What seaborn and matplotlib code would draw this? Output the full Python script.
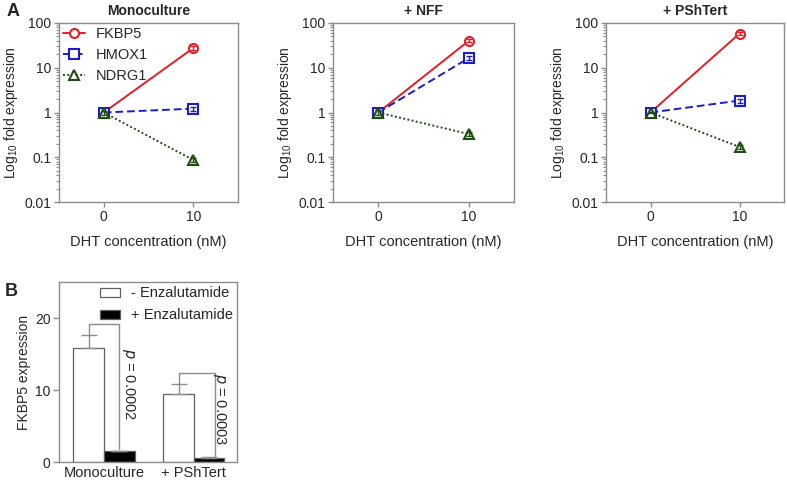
import numpy as np
import pandas as pd
import seaborn as sns
import matplotlib
matplotlib.use("Agg")
import matplotlib.pyplot as plt

sns.set_style("ticks")
plt.rcParams['font.family'] = ['Liberation Sans', 'DejaVu Sans']
plt.rcParams['mathtext.default'] = 'regular'

# panel A data
dht = [0, 10]
conditions = ["Monoculture", "+ NFF", "+ PShTert"]
genes = ["FKBP5", "HMOX1", "NDRG1"]
fkbp5 = {"Monoculture": [1.0, 27.5], "+ NFF": [1.0, 40.0], "+ PShTert": [1.0, 58.0]}
hmox1 = {"Monoculture": [1.0, 1.22], "+ NFF": [1.0, 16.5], "+ PShTert": [1.0, 1.85]}
ndrg1 = {"Monoculture": [1.0, 0.087], "+ NFF": [1.0, 0.33], "+ PShTert": [1.0, 0.17]}
fkbp5_err = {"Monoculture": [0.05, 2.5], "+ NFF": [0.05, 3.0], "+ PShTert": [0.05, 5.0]}
hmox1_err = {"Monoculture": [0.05, 0.12], "+ NFF": [0.1, 1.8], "+ PShTert": [0.05, 0.2]}
ndrg1_err = {"Monoculture": [0.1, 0.01], "+ NFF": [0.12, 0.03], "+ PShTert": [0.05, 0.02]}

# panel B data
groups = ["Monoculture", "+ PShTert"]
treatments = ["- Enzalutamide", "+ Enzalutamide"]
minus_enz = [15.8, 9.5]
minus_enz_err = [1.8, 1.3]
plus_enz = [1.5, 0.55]
plus_enz_err = [0.05, 0.15]
pvals = ["0.0002", "0.0003"]

colors = {"FKBP5": "#e31e24", "HMOX1": "#1c1ccc", "NDRG1": "#1f4d14"}
styles = {"FKBP5": "-", "HMOX1": (0, (4, 2)), "NDRG1": (0, (1, 1.2))}
marks = {"FKBP5": "o", "HMOX1": "s", "NDRG1": "^"}
vals = {"FKBP5": fkbp5, "HMOX1": hmox1, "NDRG1": ndrg1}
errs = {"FKBP5": fkbp5_err, "HMOX1": hmox1_err, "NDRG1": ndrg1_err}

W, H = 787, 483
fig = plt.figure(figsize=(W / 100, H / 100), dpi=100)

def box(l, r, t, b):
    return [l / W, 1 - b / H, (r - l) / W, (b - t) / H]

spine_col = "#8c8c8c"
a_boxes = [(59, 238, 23, 202), (333, 514, 23, 202), (606, 784, 23, 202)]

for i, cond in enumerate(conditions):
    ax = fig.add_axes(box(*a_boxes[i]))
    for g in genes:
        df = pd.DataFrame({"x": dht, "y": vals[g][cond]})
        sns.lineplot(data=df, x="x", y="y", ax=ax, color=colors[g],
                     linestyle=styles[g], linewidth=1.4, marker=marks[g],
                     markersize=6.5, markerfacecolor="white",
                     markeredgecolor=colors[g], markeredgewidth=1.5,
                     label=g if i == 0 else None)
        ax.errorbar(dht, vals[g][cond], yerr=errs[g][cond], fmt="none",
                    ecolor=colors[g], elinewidth=1, capsize=2.5)
    ax.set_yscale("log")
    ax.set_ylim(0.01, 100)
    ax.set_xlim(-5, 15)
    ax.set_xticks([0, 10])
    ax.set_yticks([0.01, 0.1, 1, 10, 100])
    ax.set_yticklabels(["0.01", "0.1", "1", "10", "100"])
    ax.set_xlabel("DHT concentration (nM)", fontsize=10.5, labelpad=8)
    ax.set_ylabel("Log$_{10}$ fold expression", fontsize=10, labelpad=3)
    ax.set_title(cond, fontsize=10, fontweight="bold", pad=6)
    for s in ax.spines.values():
        s.set_color(spine_col)
        s.set_linewidth(1)
    ax.tick_params(axis="both", which="major", labelsize=10, color=spine_col,
                   length=3.5, width=1, pad=2)
    ax.tick_params(axis="y", which="minor", color=spine_col, length=2, width=0.8)
    if i == 0:
        ax.legend(loc="upper left", frameon=False, fontsize=10.5,
                  handlelength=1.5, borderaxespad=0.0, borderpad=0.25,
                  labelspacing=0.5, handletextpad=0.75)
    else:
        if ax.get_legend():
            ax.get_legend().remove()

fig.text(7 / W, 1 - 11 / H, "A", fontsize=13, fontweight="bold", va="center")

# panel B
axb = fig.add_axes(box(59, 237, 282, 462))
dfb = pd.DataFrame({
    "group": groups * 2,
    "treatment": [treatments[0]] * 2 + [treatments[1]] * 2,
    "value": minus_enz + plus_enz,
})
sns.barplot(data=dfb, x="group", y="value", hue="treatment", ax=axb,
            palette=["white", "black"], edgecolor="#606060", linewidth=0.9,
            width=0.68, errorbar=None, gap=0)
bw = 0.34
for j in range(len(groups)):
    xw = j - bw / 2
    xb = j + bw / 2
    axb.errorbar([xw], [minus_enz[j]], yerr=[[0], [minus_enz_err[j]]],
                 fmt="none", ecolor=spine_col, elinewidth=1, capsize=5.5)
    axb.errorbar([xb], [plus_enz[j]], yerr=[[0], [plus_enz_err[j]]],
                 fmt="none", ecolor=spine_col, elinewidth=1, capsize=5.5)
    top = minus_enz[j] + minus_enz_err[j] + 1.6
    xr = xb + (0 if j == 0 else 0.07)
    axb.plot([xw, xw, xr, xr],
             [minus_enz[j] + minus_enz_err[j], top, top,
              plus_enz[j] + plus_enz_err[j] + 0.2],
             color=spine_col, linewidth=1)
    axb.text(xb + 0.1 + 0.02 * j, [10.8, 7.3][j], "$\\it{p}$ = " + pvals[j],
             rotation=270, ha="center", va="center", fontsize=10.5)

axb.set_xlim(-0.5, 1.48)
axb.set_ylim(0, 25)
axb.set_yticks([0, 10, 20])
axb.set_xlabel("")
axb.set_ylabel("FKBP5 expression", fontsize=10, labelpad=3)
for s in axb.spines.values():
    s.set_color(spine_col)
    s.set_linewidth(1)
axb.tick_params(axis="y", labelsize=10, color=spine_col, length=4, width=1, pad=2)
axb.tick_params(axis="x", labelsize=10.5, length=0, pad=3)
lg = axb.legend(loc="upper right", frameon=False, fontsize=10.5,
                handlelength=1.4, handleheight=0.55, borderaxespad=0.0,
                borderpad=0.3, labelspacing=0.55, handletextpad=0.7)
for p in lg.get_patches():
    p.set_edgecolor("#606060")

fig.text(5 / W, 1 - 292 / H, "B", fontsize=13, fontweight="bold", va="center")

fig.savefig("out.png", dpi=100)
